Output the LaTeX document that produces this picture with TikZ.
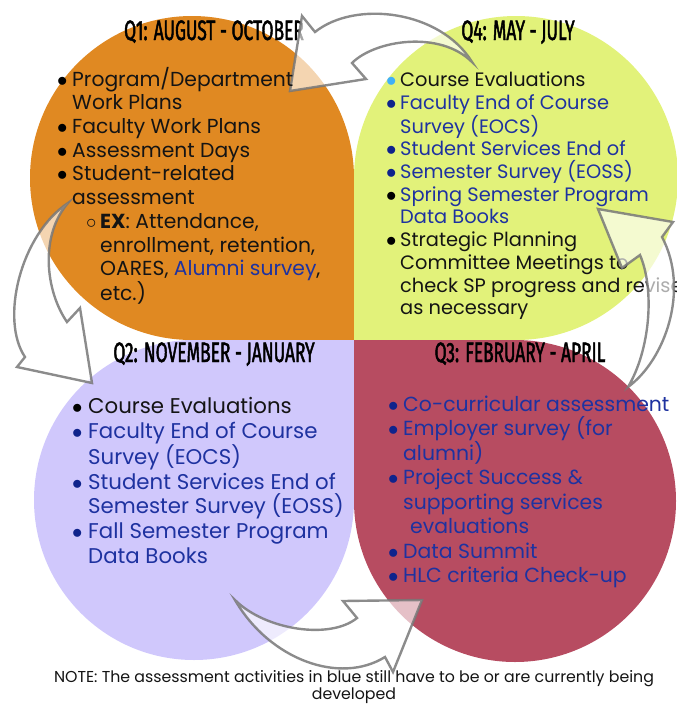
\documentclass[tikz,border=0pt]{standalone}
\usepackage{fontspec}
\setmainfont{Poppins}
\newfontfamily\titlefont[FakeStretch=0.62,FakeBold=1.6]{Fira Sans}
\definecolor{qorange}{RGB}{224,137,34}
\definecolor{qyellow}{RGB}{226,242,122}
\definecolor{qpurple}{RGB}{208,200,252}
\definecolor{qred}{RGB}{183,76,97}
\definecolor{tblue}{RGB}{30,50,160}
\definecolor{bblue}{RGB}{15,35,140}
\definecolor{lblue}{RGB}{64,176,248}
\definecolor{agray}{RGB}{120,120,120}
\definecolor{tblack}{RGB}{20,20,20}
\newcommand{\bu}[2]{\makebox[#2][l]{\textcolor{#1}{$\bullet$}}}
\newcommand{\tb}[1]{\textcolor{tblue}{#1}}
\begin{document}
\begin{tikzpicture}[x=1pt,y=-1pt,
  arrowshape/.style={fill=white, fill opacity=0.65, draw=agray, draw opacity=0.85, line width=2.4pt, line join=miter},
  qtitle/.style={font=\titlefont\fontsize{28}{28}\selectfont, text=black, anchor=base, inner sep=0},
  qlist/.style={anchor=north west, align=left, inner sep=0, text=tblack},
  note/.style={font=\fontsize{15.8}{14.5}\selectfont, align=center, anchor=north, inner sep=0, text=tblack}]
\useasboundingbox (0,0) rectangle (677,704);
% quadrants
\fill[qorange] (354,340) -- (192,340) arc[start angle=90,end angle=360,radius=162] -- cycle;
\fill[qyellow] (354,340) -- (354,178) arc[start angle=180,end angle=450,radius=162] -- cycle;
\fill[qpurple] (354,340) -- (354,500) arc[start angle=0,end angle=270,radius=160] -- cycle;
\fill[qred] (354,340) -- (515,340) arc[start angle=270,end angle=540,radius=161] -- cycle;
% titles
\node[qtitle] (t1) at (214,40) {Q1: AUGUST - OCTOBER};
\node[qtitle] (t4) at (518,40) {Q4: MAY - JULY};
\node[qtitle] (t2) at (214,362) {Q2: NOVEMBER - JANUARY};
\node[qtitle] (t3) at (520,362) {Q3: FEBRUARY - APRIL};
% Q4 list
\node[qlist, font=\fontsize{19.4}{22.7}\selectfont] (l4) at (386,71.4) {%
\bu{lblue}{14pt}Course Evaluations\\
\bu{bblue}{14pt}\tb{Faculty End of Course}\\
\hspace*{14pt}\tb{Survey (EOCS)}\\
\bu{bblue}{14pt}\tb{Student Services End of}\\
\bu{bblue}{14pt}\tb{Semester Survey (EOSS)}\\
\bu{black}{14pt}\tb{Spring Semester Program}\\
\hspace*{14pt}\tb{Data Books}\\
\bu{black}{14pt}Strategic Planning\\
\hspace*{14pt}Committee Meetings to\\
\hspace*{14pt}check SP progress and revise\\
\hspace*{14pt}as necessary};
% arrows
\coordinate (a1t) at (472,62);
\coordinate (a1ob) at (315,32);
\coordinate (a1oc) at (302,16);
\coordinate (a1tip) at (290,91);
\coordinate (a1ic) at (366,79);
\coordinate (a1ib) at (352,63);
\draw[arrowshape] (a1t) .. controls (440,10) and (355,0) .. (a1ob) -- (a1oc) -- (a1tip) -- (a1ic) -- (a1ib) .. controls (375,40) and (440,30) .. cycle;
\coordinate (a2t) at (68,203);
\coordinate (a2ob) at (25,357);
\coordinate (a2oc) at (17,367);
\coordinate (a2tip) at (92,383);
\coordinate (a2ic) at (80,308);
\coordinate (a2ib) at (67,322);
\draw[arrowshape] (a2t) .. controls (20,235) and (0,320) .. (a2ob) -- (a2oc) -- (a2tip) -- (a2ic) -- (a2ib) .. controls (45,290) and (40,235) .. cycle;
\coordinate (a3t) at (235,600);
\coordinate (a3ib) at (357,618);
\coordinate (a3ic) at (343,601);
\coordinate (a3tip) at (422,600);
\coordinate (a3oc) at (393,672);
\coordinate (a3ob) at (385,657);
\draw[arrowshape] (a3t) .. controls (265,630) and (330,640) .. (a3ib) -- (a3ic) -- (a3tip) -- (a3oc) -- (a3ob) .. controls (340,685) and (270,660) .. cycle;
\coordinate (a4t) at (628,387);
\coordinate (a4ob) at (662,237);
\coordinate (a4oc) at (673,222);
\coordinate (a4tip) at (598,209);
\coordinate (a4ic) at (622,268);
\coordinate (a4ib) at (640,255);
\draw[arrowshape] (a4t) .. controls (665,360) and (690,290) .. (a4ob) -- (a4oc) -- (a4tip) -- (a4ic) -- (a4ib) .. controls (655,290) and (650,350) .. cycle;
% Q1 list
\node[qlist, font=\fontsize{20.3}{23.7}\selectfont] (l1) at (57,66.8) {%
\bu{black}{15pt}Program/Department\\
\hspace*{15pt}Work Plans\\
\bu{black}{15pt}Faculty Work Plans\\
\bu{black}{15pt}Assessment Days\\
\bu{black}{15pt}Student-related\\
\hspace*{15pt}assessment\\
\hspace*{29pt}\makebox[14pt][l]{$\circ$}\textbf{EX}: Attendance,\\
\hspace*{43pt}enrollment, retention,\\
\hspace*{43pt}OARES, \tb{Alumni survey},\\
\hspace*{43pt}etc.)};
% Q2 list
\node[qlist, font=\fontsize{21.3}{24.7}\selectfont] (l2) at (72,397) {%
\bu{black}{16pt}Course Evaluations\\
\bu{bblue}{16pt}\tb{Faculty End of Course}\\
\hspace*{16pt}\tb{Survey (EOCS)}\\
\bu{bblue}{16pt}\tb{Student Services End of}\\
\hspace*{16pt}\tb{Semester Survey (EOSS)}\\
\bu{bblue}{16pt}\tb{Fall Semester Program}\\
\hspace*{16pt}\tb{Data Books}};
% Q3 list
\node[qlist, font=\fontsize{20.4}{24.5}\selectfont] (l3) at (388,395.3) {%
\bu{bblue}{15pt}\tb{Co-curricular assessment}\\
\bu{bblue}{15pt}\tb{Employer survey (for}\\
\hspace*{15pt}\tb{alumni)}\\
\bu{bblue}{15pt}\tb{Project Success \&}\\
\hspace*{15pt}\tb{supporting services}\\
\hspace*{22pt}\tb{evaluations}\\
\bu{bblue}{15pt}\tb{Data Summit}\\
\bu{bblue}{15pt}\tb{HLC criteria Check-up}};
% note
\node[note] (nt) at (354,670.5) {NOTE: The assessment activities in blue still have to be or are currently being\\developed};
\end{tikzpicture}
\end{document}
